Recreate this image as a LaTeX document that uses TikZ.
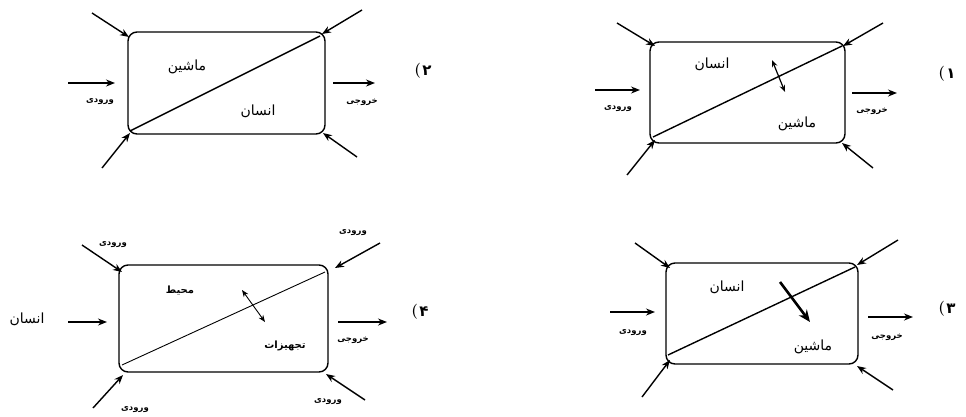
\documentclass[tikz,border=0pt]{standalone}
\usepackage{fontspec}
\newfontfamily\arabicfont[Script=Arabic]{DejaVu Sans}
\newfontfamily\arabicbold[Script=Arabic]{DejaVu Sans Bold}
\TeXXeTstate=1
\usetikzlibrary{arrows.meta}
\newcommand{\fa}[1]{\arabicfont\beginR #1\endR}
\newcommand{\fb}[1]{\arabicbold\beginR #1\endR}
\begin{document}
\begin{tikzpicture}[x=1pt,y=-1pt,
  sysbox/.style={draw, rounded corners=9pt, line width=1.4pt, inner sep=0pt},
  io/.style={-{Stealth[length=9pt,width=7pt]}, line width=1.4pt},
  twoway/.style={{Stealth[length=7pt,width=5.5pt]}-{Stealth[length=7pt,width=5.5pt]}, line width=1.2pt},
  heavy/.style={-{Stealth[length=12pt,width=10pt]}, line width=2.6pt},
  diag/.style={line width=1.4pt},
  thindiag/.style={line width=0.9pt},
  big/.style={font=\fontsize{14}{16}\selectfont, inner sep=0pt},
  mid/.style={font=\fontsize{10}{12}\selectfont, inner sep=0pt},
  small/.style={font=\fontsize{8.5}{10}\selectfont, inner sep=0pt},
  num/.style={font=\fontsize{15}{17}\selectfont\arabicbold, inner sep=0pt},
  paren/.style={font=\fontsize{15}{17}\selectfont\bfseries, inner sep=0pt, anchor=east, xshift=-1pt}]
\useasboundingbox (0,0) rectangle (966,416);
\fill[white] (0,0) rectangle (966,416);

% ---------------- Panel 1 (top right)
\node[sysbox, minimum width=195pt, minimum height=101pt] (p1) at (747.5,92.5) {};
\coordinate (p1tlS) at (617,23); \coordinate (p1tlE) at (655,46);
\coordinate (p1trS) at (883,23); \coordinate (p1trE) at (843,46);
\coordinate (p1blS) at (627,175); \coordinate (p1blE) at (655,140);
\coordinate (p1brS) at (873,168); \coordinate (p1brE) at (842,143);
\coordinate (p1inS) at (595,90); \coordinate (p1inE) at (640,90);
\coordinate (p1outS) at (852,93); \coordinate (p1outE) at (897,93);
\coordinate (p1dA) at (653,137); \coordinate (p1dB) at (842,46);
\coordinate (p1xA) at (772,60); \coordinate (p1xB) at (785,92);
\draw[io] (p1tlS) -- (p1tlE);
\draw[io] (p1trS) -- (p1trE);
\draw[io] (p1blS) -- (p1blE);
\draw[io] (p1brS) -- (p1brE);
\draw[io] (p1inS) -- (p1inE);
\draw[io] (p1outS) -- (p1outE);
\draw[diag] (p1dA) -- (p1dB);
\draw[twoway] (p1xA) -- (p1xB);
\node[big] (p1h) at (712,64) {\fa{انسان}};
\node[big] (p1m) at (797,124) {\fa{ماشین}};
\node[small] (p1in) at (618,109) {\fb{ورودی}};
\node[small] (p1out) at (872,111) {\fb{خروجی}};
\node[num] (p1n) at (951,74) {۱};
\node[paren] (p1p) at (p1n.west) {(};

% ---------------- Panel 2 (top left)
\node[sysbox, minimum width=197pt, minimum height=102pt] (p2) at (226.5,83) {};
\coordinate (p2tlS) at (92,13); \coordinate (p2tlE) at (129,37);
\coordinate (p2trS) at (362,10); \coordinate (p2trE) at (322,34);
\coordinate (p2blS) at (102,168); \coordinate (p2blE) at (130,133);
\coordinate (p2brS) at (357,157); \coordinate (p2brE) at (323,133);
\coordinate (p2inS) at (68,83); \coordinate (p2inE) at (115,83);
\coordinate (p2outS) at (333,83); \coordinate (p2outE) at (375,83);
\coordinate (p2dA) at (130,131); \coordinate (p2dB) at (320,36);
\draw[io] (p2tlS) -- (p2tlE);
\draw[io] (p2trS) -- (p2trE);
\draw[io] (p2blS) -- (p2blE);
\draw[io] (p2brS) -- (p2brE);
\draw[io] (p2inS) -- (p2inE);
\draw[io] (p2outS) -- (p2outE);
\draw[diag] (p2dA) -- (p2dB);
\node[big] (p2m) at (187,67) {\fa{ماشین}};
\node[big] (p2h) at (258,111) {\fa{انسان}};
\node[small] (p2in) at (100,102) {\fb{ورودی}};
\node[small] (p2out) at (362,102) {\fb{خروجی}};
\node[num] (p2n) at (427,71) {۲};
\node[paren] (p2p) at (p2n.west) {(};

% ---------------- Panel 3 (bottom right)
\node[sysbox, minimum width=192pt, minimum height=101pt] (p3) at (762,313.5) {};
\coordinate (p3tlS) at (635,243); \coordinate (p3tlE) at (670,268);
\coordinate (p3trS) at (898,240); \coordinate (p3trE) at (857,265);
\coordinate (p3blS) at (642,397); \coordinate (p3blE) at (670,360);
\coordinate (p3brS) at (893,390); \coordinate (p3brE) at (857,366);
\coordinate (p3inS) at (610,312); \coordinate (p3inE) at (655,312);
\coordinate (p3outS) at (868,317); \coordinate (p3outE) at (913,317);
\coordinate (p3dA) at (668,355); \coordinate (p3dB) at (855,267);
\coordinate (p3xA) at (780,282); \coordinate (p3xB) at (810,322);
\draw[io] (p3tlS) -- (p3tlE);
\draw[io] (p3trS) -- (p3trE);
\draw[io] (p3blS) -- (p3blE);
\draw[io] (p3brS) -- (p3brE);
\draw[io] (p3inS) -- (p3inE);
\draw[io] (p3outS) -- (p3outE);
\draw[diag] (p3dA) -- (p3dB);
\draw[heavy] (p3xA) -- (p3xB);
\node[big] (p3h) at (727,287) {\fa{انسان}};
\node[big] (p3m) at (813,347) {\fa{ماشین}};
\node[small] (p3in) at (633,333) {\fb{ورودی}};
\node[small] (p3out) at (887,337) {\fb{خروجی}};
\node[num] (p3n) at (951,309) {۳};
\node[paren] (p3p) at (p3n.west) {(};

% ---------------- Panel 4 (bottom left)
\node[sysbox, minimum width=209pt, minimum height=107pt] (p4) at (223.5,318.5) {};
\coordinate (p4tlS) at (82,245); \coordinate (p4tlE) at (122,272);
\coordinate (p4trS) at (380,243); \coordinate (p4trE) at (335,268);
\coordinate (p4blS) at (93,408); \coordinate (p4blE) at (123,375);
\coordinate (p4brS) at (365,400); \coordinate (p4brE) at (326,374);
\coordinate (p4inS) at (68,322); \coordinate (p4inE) at (107,322);
\coordinate (p4outS) at (338,322); \coordinate (p4outE) at (387,322);
\coordinate (p4dA) at (122,365); \coordinate (p4dB) at (325,272);
\coordinate (p4xA) at (242,290); \coordinate (p4xB) at (265,322);
\draw[io] (p4tlS) -- (p4tlE);
\draw[io] (p4trS) -- (p4trE);
\draw[io] (p4blS) -- (p4blE);
\draw[io] (p4brS) -- (p4brE);
\draw[io] (p4inS) -- (p4inE);
\draw[io] (p4outS) -- (p4outE);
\draw[thindiag] (p4dA) -- (p4dB);
\draw[twoway, line width=0.9pt] (p4xA) -- (p4xB);
\node[mid] (p4e) at (180,291) {\fb{محیط}};
\node[mid] (p4t) at (285,346) {\fb{تجهیزات}};
\node[big] (p4h) at (27,319) {\fa{انسان}};
\node[small] (p4in1) at (113,245) {\fb{ورودی}};
\node[small] (p4in2) at (353,233) {\fb{ورودی}};
\node[small] (p4in3) at (135,410) {\fb{ورودی}};
\node[small] (p4in4) at (328,402) {\fb{ورودی}};
\node[small] (p4out) at (353,340) {\fb{خروجی}};
\node[num] (p4n) at (424,312) {۴};
\node[paren] (p4p) at (p4n.west) {(};
\end{tikzpicture}
\end{document}
